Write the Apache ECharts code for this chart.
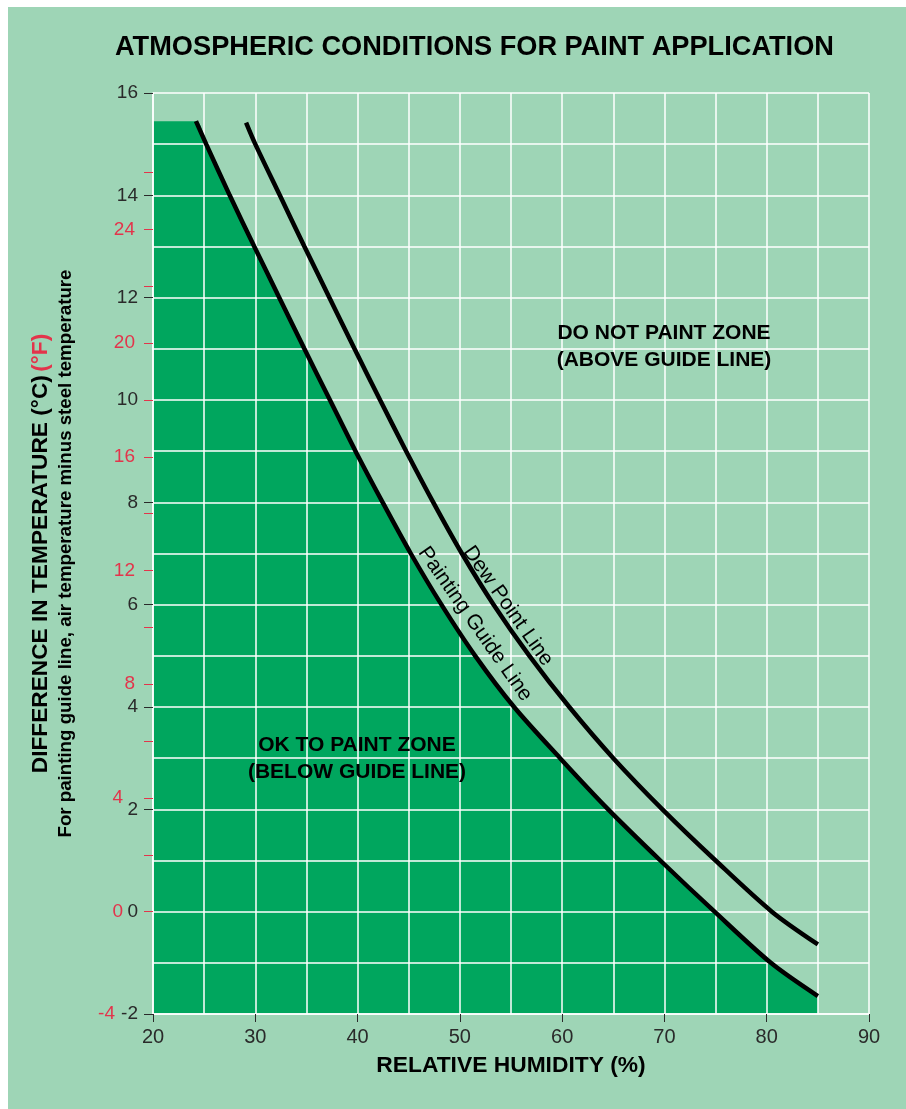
<!DOCTYPE html>
<html>
<head>
<meta charset="utf-8">
<script src="https://cdn.jsdelivr.net/npm/echarts@6.0.0/dist/echarts.min.js"></script>
<style>
  html, body { margin: 0; padding: 0; background: #fff; }
  #chart { width: 906px; height: 1109px; }
</style>
</head>
<body>
<div id="chart"></div>
<script>
// painting guide line (RH %, delta degC)
var guideHumidity = [24.2, 25.2, 27.5, 29.9, 32.35, 34.8, 37.3, 39.8, 42.45, 45.2, 48.2, 51.5, 55.3, 59.8, 64.5, 69.6, 74.9, 80.4, 85.0];
var guideDiff     = [15.45, 15, 14, 13, 12, 11, 10, 9, 8, 7, 6, 5, 4, 3, 2, 1, 0, -1, -1.65];

// dew point line
var dewHumidity = [29.1, 30.0, 32.4, 34.8, 37.25, 39.7, 42.2, 44.75, 47.4, 50.2, 53.3, 56.8, 60.7, 65.0, 69.8, 75.0, 80.5, 85.0];
var dewDiff     = [15.42, 15, 14, 13, 12, 11, 10, 9, 8, 7, 6, 5, 4, 3, 2, 1, 0, -0.64];

// the "ok to paint" zone starts at the left edge of the chart
var okZoneLeft = 20;

// fahrenheit scale on the left (ticks / labels)
var fahrenheitTicks  = [0, 2, 4, 6, 8, 10, 12, 14, 16, 18, 20, 22, 24, 26];
var fahrenheitLabels = [-3.6, 0, 4, 8, 12, 16, 20, 24];

var FONT = 'Liberation Sans';
var RED = '#e3344b';
var DARK = '#2a2a2a';

function pairs(xs, ys) {
    var out = [];
    for (var i = 0; i < xs.length; i++) {
        out.push([xs[i], ys[i]]);
    }
    return out;
}

var guideData = pairs(guideHumidity, guideDiff);
var dewData = pairs(dewHumidity, dewDiff);
var fillData = [[okZoneLeft, guideDiff[0]]].concat(guideData);

var myChart = echarts.init(document.getElementById('chart'));

function zoneText(x, y, txt) {
    return {
        type: 'text', x: x, y: y, z: 10, silent: true,
        style: {
            text: txt, fontFamily: FONT, fontWeight: 'bold', fontSize: 21, fill: '#000',
            align: 'center', verticalAlign: 'middle', lineHeight: 27
        }
    };
}

function curveText(x, y, txt) {
    return {
        type: 'text', x: x, y: y, z: 10, silent: true,
        rotation: -55 * Math.PI / 180,
        style: {
            text: txt, fontFamily: FONT, fontSize: 21, fill: '#000',
            align: 'center', verticalAlign: 'middle'
        }
    };
}

var option = {
    animation: false,
    backgroundColor: '#fff',
    title: {
        text: 'ATMOSPHERIC CONDITIONS FOR PAINT APPLICATION',
        left: 110,
        top: 29,
        textStyle: { fontFamily: FONT, fontWeight: 'bold', fontSize: 27.2, color: '#000' }
    },
    grid: { left: 153, right: 37, top: 93, bottom: 95 },
    graphic: [
        {
            type: 'rect', z: -10, silent: true,
            shape: { x: 8, y: 7, width: 898, height: 1102 },
            style: { fill: '#9ed5b6' }
        },
        zoneText(664, 347, 'DO NOT PAINT ZONE\n(ABOVE GUIDE LINE)'),
        zoneText(357, 759, 'OK TO PAINT ZONE\n(BELOW GUIDE LINE)'),
        curveText(508, 606, 'Dew Point Line'),
        curveText(475, 624, 'Painting Guide Line')
    ],
    xAxis: {
        type: 'value',
        min: 20,
        max: 90,
        interval: 10,
        z: 2,
        name: 'RELATIVE HUMIDITY (%)',
        nameLocation: 'middle',
        nameGap: 40,
        nameTextStyle: { fontFamily: FONT, fontWeight: 'bold', fontSize: 22.8, color: '#000' },
        axisLine: { onZero: false, lineStyle: { color: '#fff', width: 1.5 } },
        axisTick: { show: true, length: 8, lineStyle: { color: DARK, width: 1 } },
        axisLabel: { margin: 13, fontFamily: FONT, fontSize: 20, color: DARK },
        splitLine: { show: true, lineStyle: { color: '#fff', width: 1.5 } },
        minorTick: { show: false, splitNumber: 2 },
        minorSplitLine: { show: true, lineStyle: { color: '#fff', width: 1.5 } }
    },
    yAxis: [
        {
            type: 'value',
            position: 'left',
            min: -2,
            max: 16,
            interval: 2,
            z: 2,
            name: '{b|DIFFERENCE IN TEMPERATURE (°C)} {r|(°F)}',
            nameLocation: 'middle',
            nameRotate: 90,
            nameGap: 101,
            nameTextStyle: {
                rich: {
                    b: { fontFamily: FONT, fontWeight: 'bold', fontSize: 22.7, color: '#000' },
                    r: { fontFamily: FONT, fontWeight: 'bold', fontSize: 22.7, color: RED }
                }
            },
            axisLine: { show: true, onZero: false, lineStyle: { color: '#fff', width: 1.5 } },
            axisTick: { show: true, length: 9, lineStyle: { color: DARK, width: 1 } },
            axisLabel: { margin: 15, fontFamily: FONT, fontSize: 19, color: DARK },
            splitLine: { show: true, lineStyle: { color: '#fff', width: 1.5 } },
            minorTick: { show: false, splitNumber: 2 },
            minorSplitLine: { show: true, lineStyle: { color: '#fff', width: 1.5 } }
        },
        {
            type: 'value',
            position: 'left',
            offset: 0,
            min: -3.6,
            max: 28.8,
            z: 2,
            name: 'For painting guide line, air temperature minus steel temperature',
            nameLocation: 'middle',
            nameRotate: 90,
            nameGap: 78,
            nameTextStyle: { fontFamily: FONT, fontWeight: 'bold', fontSize: 18.7, color: '#000' },
            axisLine: { show: false, onZero: false },
            axisTick: { show: true, length: 9, customValues: fahrenheitTicks, lineStyle: { color: RED, width: 1 } },
            axisLabel: {
                margin: 18,
                customValues: fahrenheitLabels,
                formatter: function (v) {
                    var r = Math.round(v);
                    var key = r <= -4 ? 'f3' : (r <= 4 ? 'f2' : 'f1');
                    return '{' + key + '|' + r + '}';
                },
                rich: {
                    f1: { fontFamily: FONT, fontSize: 19, color: RED },
                    f2: { fontFamily: FONT, fontSize: 19, color: RED, padding: [0, 12, 0, 0] },
                    f3: { fontFamily: FONT, fontSize: 19, color: RED, padding: [0, 20, 0, 0] }
                }
            },
            splitLine: { show: false }
        }
    ],
    series: [
        {
            name: 'ok zone',
            type: 'line',
            z: 1,
            silent: true,
            yAxisIndex: 0,
            data: fillData,
            symbol: 'none',
            smooth: 0.3,
            lineStyle: { width: 0 },
            areaStyle: { color: '#00a65e', opacity: 1, origin: 'start' }
        },
        {
            name: 'Painting Guide Line',
            type: 'line',
            z: 5,
            yAxisIndex: 0,
            data: guideData,
            symbol: 'none',
            smooth: 0.3,
            lineStyle: { color: '#000', width: 4.5 }
        },
        {
            name: 'Dew Point Line',
            type: 'line',
            z: 5,
            yAxisIndex: 0,
            data: dewData,
            symbol: 'none',
            smooth: 0.3,
            lineStyle: { color: '#000', width: 4.5 }
        }
    ]
};

myChart.setOption(option);
</script>
</body>
</html>
